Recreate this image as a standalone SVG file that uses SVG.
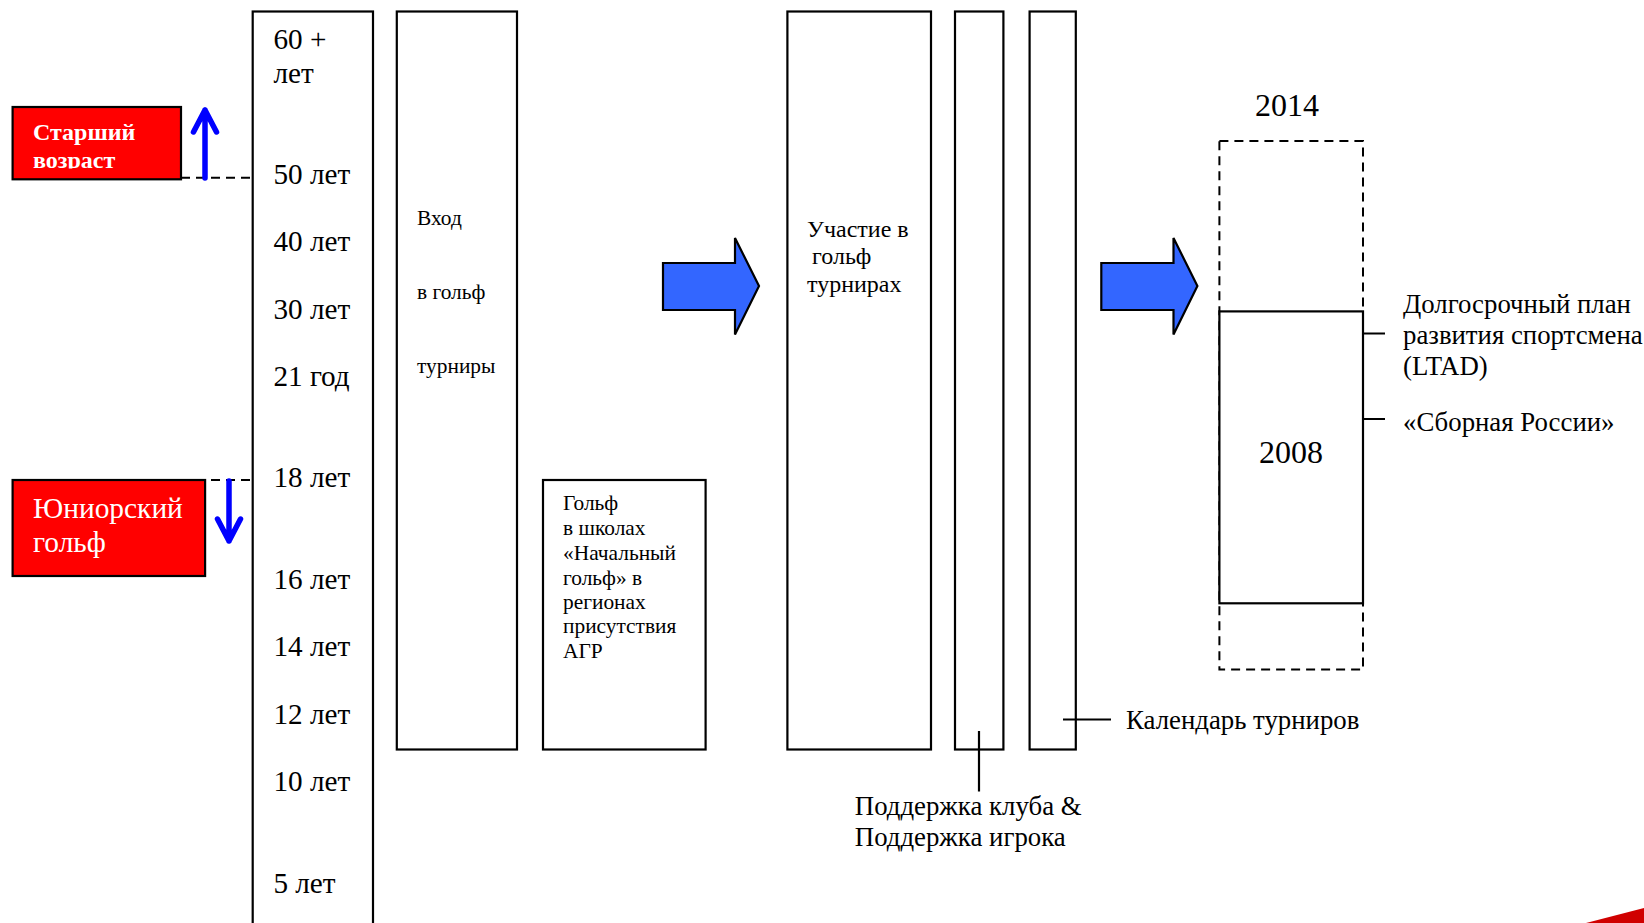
<svg xmlns="http://www.w3.org/2000/svg" width="1644" height="923" viewBox="0 0 1644 923">
<style>
text{font-family:"Liberation Serif","Times New Roman",serif;fill:#000}
.box{fill:#fff;stroke:#000;stroke-width:2.2}
.red{fill:#f00;stroke:#000;stroke-width:2.2}
.blk{fill:#36f;stroke:#000;stroke-width:2.2;stroke-linejoin:miter}
.dash{fill:none;stroke:#000;stroke-width:2;stroke-dasharray:9 6}
.ln{fill:none;stroke:#000;stroke-width:2.2}
.blue{fill:none;stroke:#00f;stroke-width:5.5;stroke-linecap:round;stroke-linejoin:round}
.age{font-size:29.200px}
.big{font-size:32px}
.mid{font-size:26.800px}
.sm{font-size:21.400px}
.tr{font-size:24px}
.w{fill:#fff}
</style>
<defs><clipPath id="c1"><rect x="12" y="107" width="170" height="61.500"/></clipPath></defs>
<rect width="1644" height="923" fill="#fff"/>
<g id="senior"><rect class="red" x="12.600" y="107" width="168.400" height="72.300"/>
<g clip-path="url(#c1)"><text class="w" font-weight="bold" font-size="24" x="33" y="139.500">Старший</text><text class="w" font-weight="bold" font-size="24" x="33" y="168">возраст</text></g></g>
<g id="junior"><rect class="red" x="12.600" y="480" width="192.500" height="96"/>
<text class="w" font-size="29.400" x="33" y="518">Юниорский</text><text class="w" font-size="29.400" x="33" y="552">гольф</text></g>
<g id="ages"><rect class="box" x="252.700" y="11.500" width="120.300" height="930"/>
<text class="age" x="273.400" y="49">60 +</text><text class="age" x="273.400" y="83">лет</text>
<text class="age" x="273.400" y="183.500">50 лет</text><text class="age" x="273.400" y="250.600">40 лет</text>
<text class="age" x="273.400" y="319">30 лет</text><text class="age" x="273.400" y="386">21 год</text>
<text class="age" x="273.400" y="486.500">18 лет</text><text class="age" x="273.400" y="589">16 лет</text>
<text class="age" x="273.400" y="656">14 лет</text><text class="age" x="273.400" y="723.500">12 лет</text>
<text class="age" x="273.400" y="790.600">10 лет</text><text class="age" x="273.400" y="893">5 лет</text></g>
<g id="entry"><rect class="box" x="396.800" y="11.500" width="120.200" height="738"/>
<text class="sm" x="417" y="224.500">Вход</text><text class="sm" x="417" y="299">в гольф</text><text class="sm" x="417" y="373">турниры</text></g>
<g id="school"><rect class="box" x="543" y="480" width="162.600" height="269.500"/>
<text class="sm" x="563" y="509.600">Гольф</text><text class="sm" x="563" y="535">в школах</text><text class="sm" x="563" y="559.500">«Начальный</text><text class="sm" x="563" y="584.500">гольф» в</text><text class="sm" x="563" y="608.500">регионах</text><text class="sm" x="563" y="633">присутствия</text><text class="sm" x="563" y="658">АГР</text></g>
<g id="arrow1"><path class="blk" d="M663 263H735V238L759 286L735 334.500V310H663Z"/></g>
<g id="participation"><rect class="box" x="787.400" y="11.500" width="143.600" height="738"/>
<text class="tr" x="807" y="237">Участие в</text><text class="tr" x="812" y="264">гольф</text><text class="tr" x="807" y="291.500">турнирах</text></g>
<g id="club"><rect class="box" x="955" y="11.500" width="48.400" height="738"/></g>
<g id="calendar"><rect class="box" x="1029.600" y="11.500" width="46.200" height="738"/></g>
<g id="arrow2"><path class="blk" d="M1101.300 263H1173.500V238L1197.400 286L1173.500 334.500V310H1101.300Z"/></g>
<g id="plan"><rect class="dash" x="1219.400" y="141" width="143.600" height="528.500"/>
<rect class="box" x="1219.400" y="311.400" width="143.600" height="291.900"/>
<text class="big" x="1255" y="116">2014</text><text class="big" x="1259" y="462.500">2008</text></g>
<g id="labels">
<text class="mid" x="1403" y="312.500">Долгосрочный план</text><text class="mid" x="1403" y="344">развития спортсмена</text><text class="mid" x="1403" y="375">(LTAD)</text>
<text class="mid" x="1403" y="431">«Сборная России»</text>
<text class="mid" x="1126" y="729">Календарь турниров</text>
<text class="mid" x="854.800" y="815">Поддержка клуба &amp;</text><text class="mid" x="854.800" y="846">Поддержка игрока</text></g>
<g id="connectors">
<path class="dash" d="M181 177.700H253M181 480H253"/>
<path class="blue" d="M205 178V110M193.500 132L205 110L216.500 132"/>
<path class="blue" d="M229 481V541M217.500 519L229 541L240.500 519"/>
<path class="ln" d="M1363 333.500H1385M1363 419H1385M1063 719.500H1111M979 731V791.600"/>
</g>
<polygon points="1586,923 1644,908 1644,923" fill="#d00000"/>
</svg>
